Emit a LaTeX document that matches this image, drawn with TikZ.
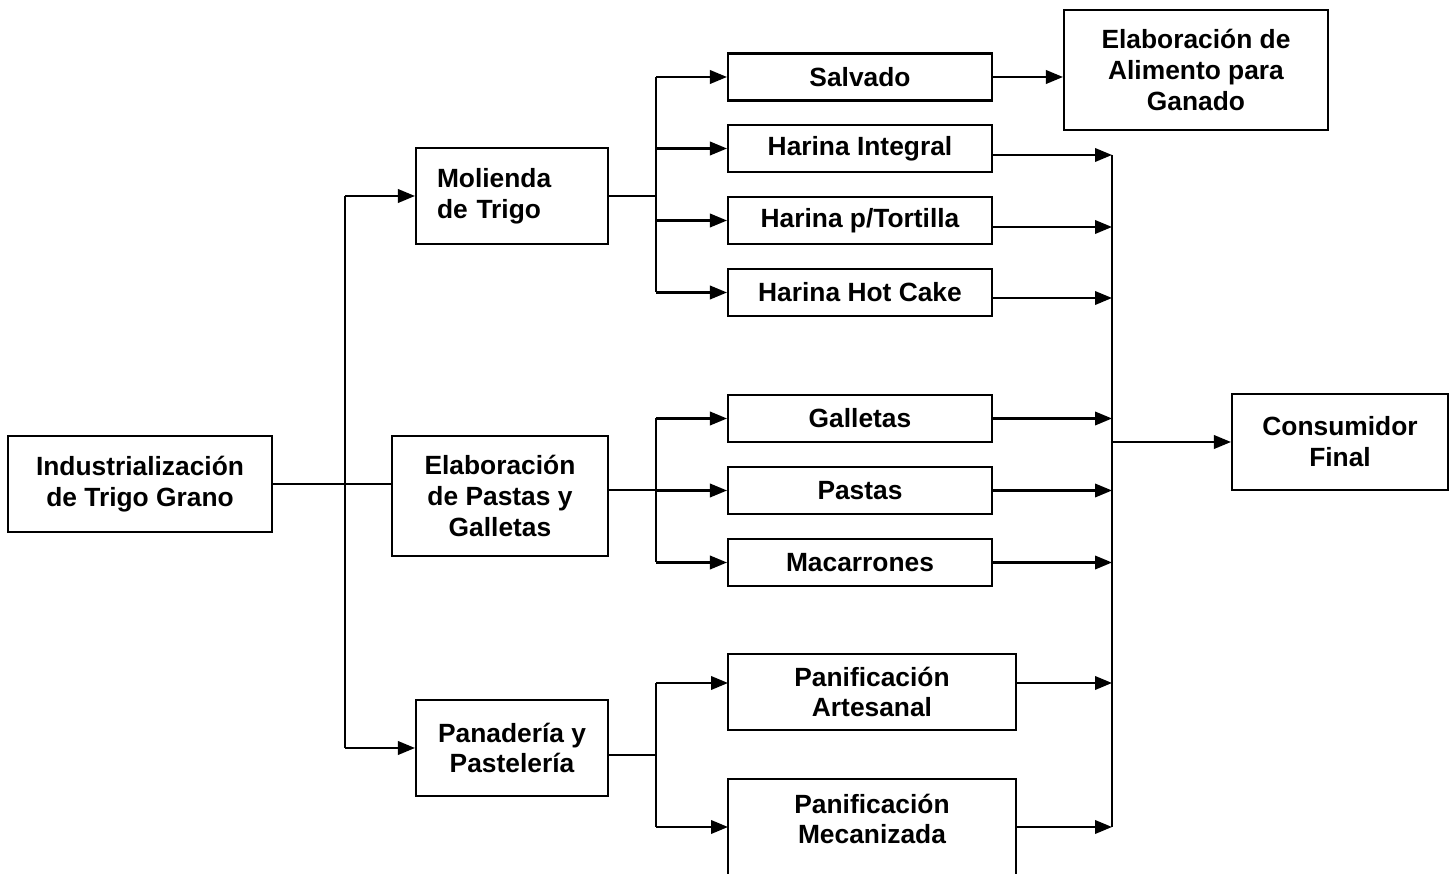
\documentclass[tikz,border=0pt]{standalone}
\usepackage{fontspec}
\setmainfont{Liberation Sans}
\usetikzlibrary{arrows.meta}
\begin{document}
\begin{tikzpicture}[x=0.02cm,y=-0.02cm,line width=1.2pt,
  txt/.style={align=center,inner sep=0pt,font=\fontsize{15}{17.6}\selectfont\bfseries},
  box/.style={txt,draw,rectangle,line width=1.2pt},
  prod/.style={box,minimum width=5.28cm,minimum height=0.94cm},
  arr/.style={-{Triangle[length=0.34cm,width=0.27cm]}}]
\useasboundingbox (0,0) rectangle (1455,874);

\node[box,minimum width=5.28cm,minimum height=1.92cm] (ind) at (140,484) {Industrialización\\de Trigo Grano};
\node[box,minimum width=3.84cm,minimum height=1.92cm,align=left,text width=3cm] (mol) at (512,196) {Molienda\\de Trigo};
\node[box,minimum width=4.32cm,minimum height=2.4cm] (pas) at (500,496) {Elaboración\\de Pastas y\\Galletas};
\node[box,minimum width=3.84cm,minimum height=1.92cm] (pan) at (512,748) {Panadería y\\Pastelería};

\node[prod] (salv) at (860,77) {Salvado};
\node[prod] (integ) at (860,148.5) {Harina Integral};
\node[prod] (tort) at (860,220.5) {Harina p/Tortilla};
\node[prod] (hot) at (860,292.5) {Harina Hot Cake};
\node[prod] (gall) at (860,418.5) {Galletas};
\node[prod] (past) at (860,490.5) {Pastas};
\node[prod] (mac) at (860,562.5) {Macarrones};
\node[box,minimum width=5.76cm,minimum height=1.52cm] (art) at (872,692) {Panificación\\Artesanal};
\node[box,minimum width=5.76cm,minimum height=2.24cm] (mec) at (872,835) {};
\node[txt] (mectxt) at (872,819) {Panificación\\Mecanizada};

\node[box,minimum width=5.28cm,minimum height=2.4cm] (ali) at (1196,70) {Elaboración de\\Alimento para\\Ganado};
\node[box,minimum width=4.32cm,minimum height=1.92cm] (cons) at (1340,442) {Consumidor\\Final};

\coordinate (split) at (345,484);
\coordinate (bmol) at (656,196);
\coordinate (bpas) at (656,490);
\coordinate (bpan) at (656,755);
\coordinate (col) at (1112,442);
\coordinate (inart) at (728,683);
\coordinate (inmec) at (728,827);

\draw (ind) -- (ind -| pas.west);
\draw (split |- mol) -- (split |- pan);
\draw[arr] (split |- mol) -- (mol);
\draw[arr] (split |- pan) -- (pan);

\draw (bmol -| mol.east) -- (bmol);
\draw (bmol |- salv) -- (bmol |- hot);
\foreach \n in {salv,integ,tort,hot}
  \draw[arr] (bmol |- \n) -- (\n);

\draw (bpas -| pas.east) -- (bpas);
\draw (bpas |- gall) -- (bpas |- mac);
\foreach \n in {gall,past,mac}
  \draw[arr] (bpas |- \n) -- (\n);

\draw (bpan -| pan.east) -- (bpan);
\draw (bpan |- inart) -- (bpan |- inmec);
\draw[arr] (bpan |- inart) -- (inart);
\draw[arr] (bpan |- inmec) -- (inmec);

\draw[arr] (salv.east) -- (salv.east -| ali.west);

\foreach \n/\d in {integ/6.5,tort/6.5,hot/5.5,gall/0,past/0,mac/0}
  \path ([yshift=-\d*0.02cm]\n.east) coordinate (e\n);
\draw (col |- einteg) -- (col |- inmec);
\foreach \n in {integ,tort,hot,gall,past,mac}
  \draw[arr] (e\n) -- (e\n -| col);
\draw[arr] (art.east |- inart) -- (col |- inart);
\draw[arr] (mec.east |- inmec) -- (col |- inmec);
\draw[arr] (col) -- (cons);
\end{tikzpicture}
\end{document}
